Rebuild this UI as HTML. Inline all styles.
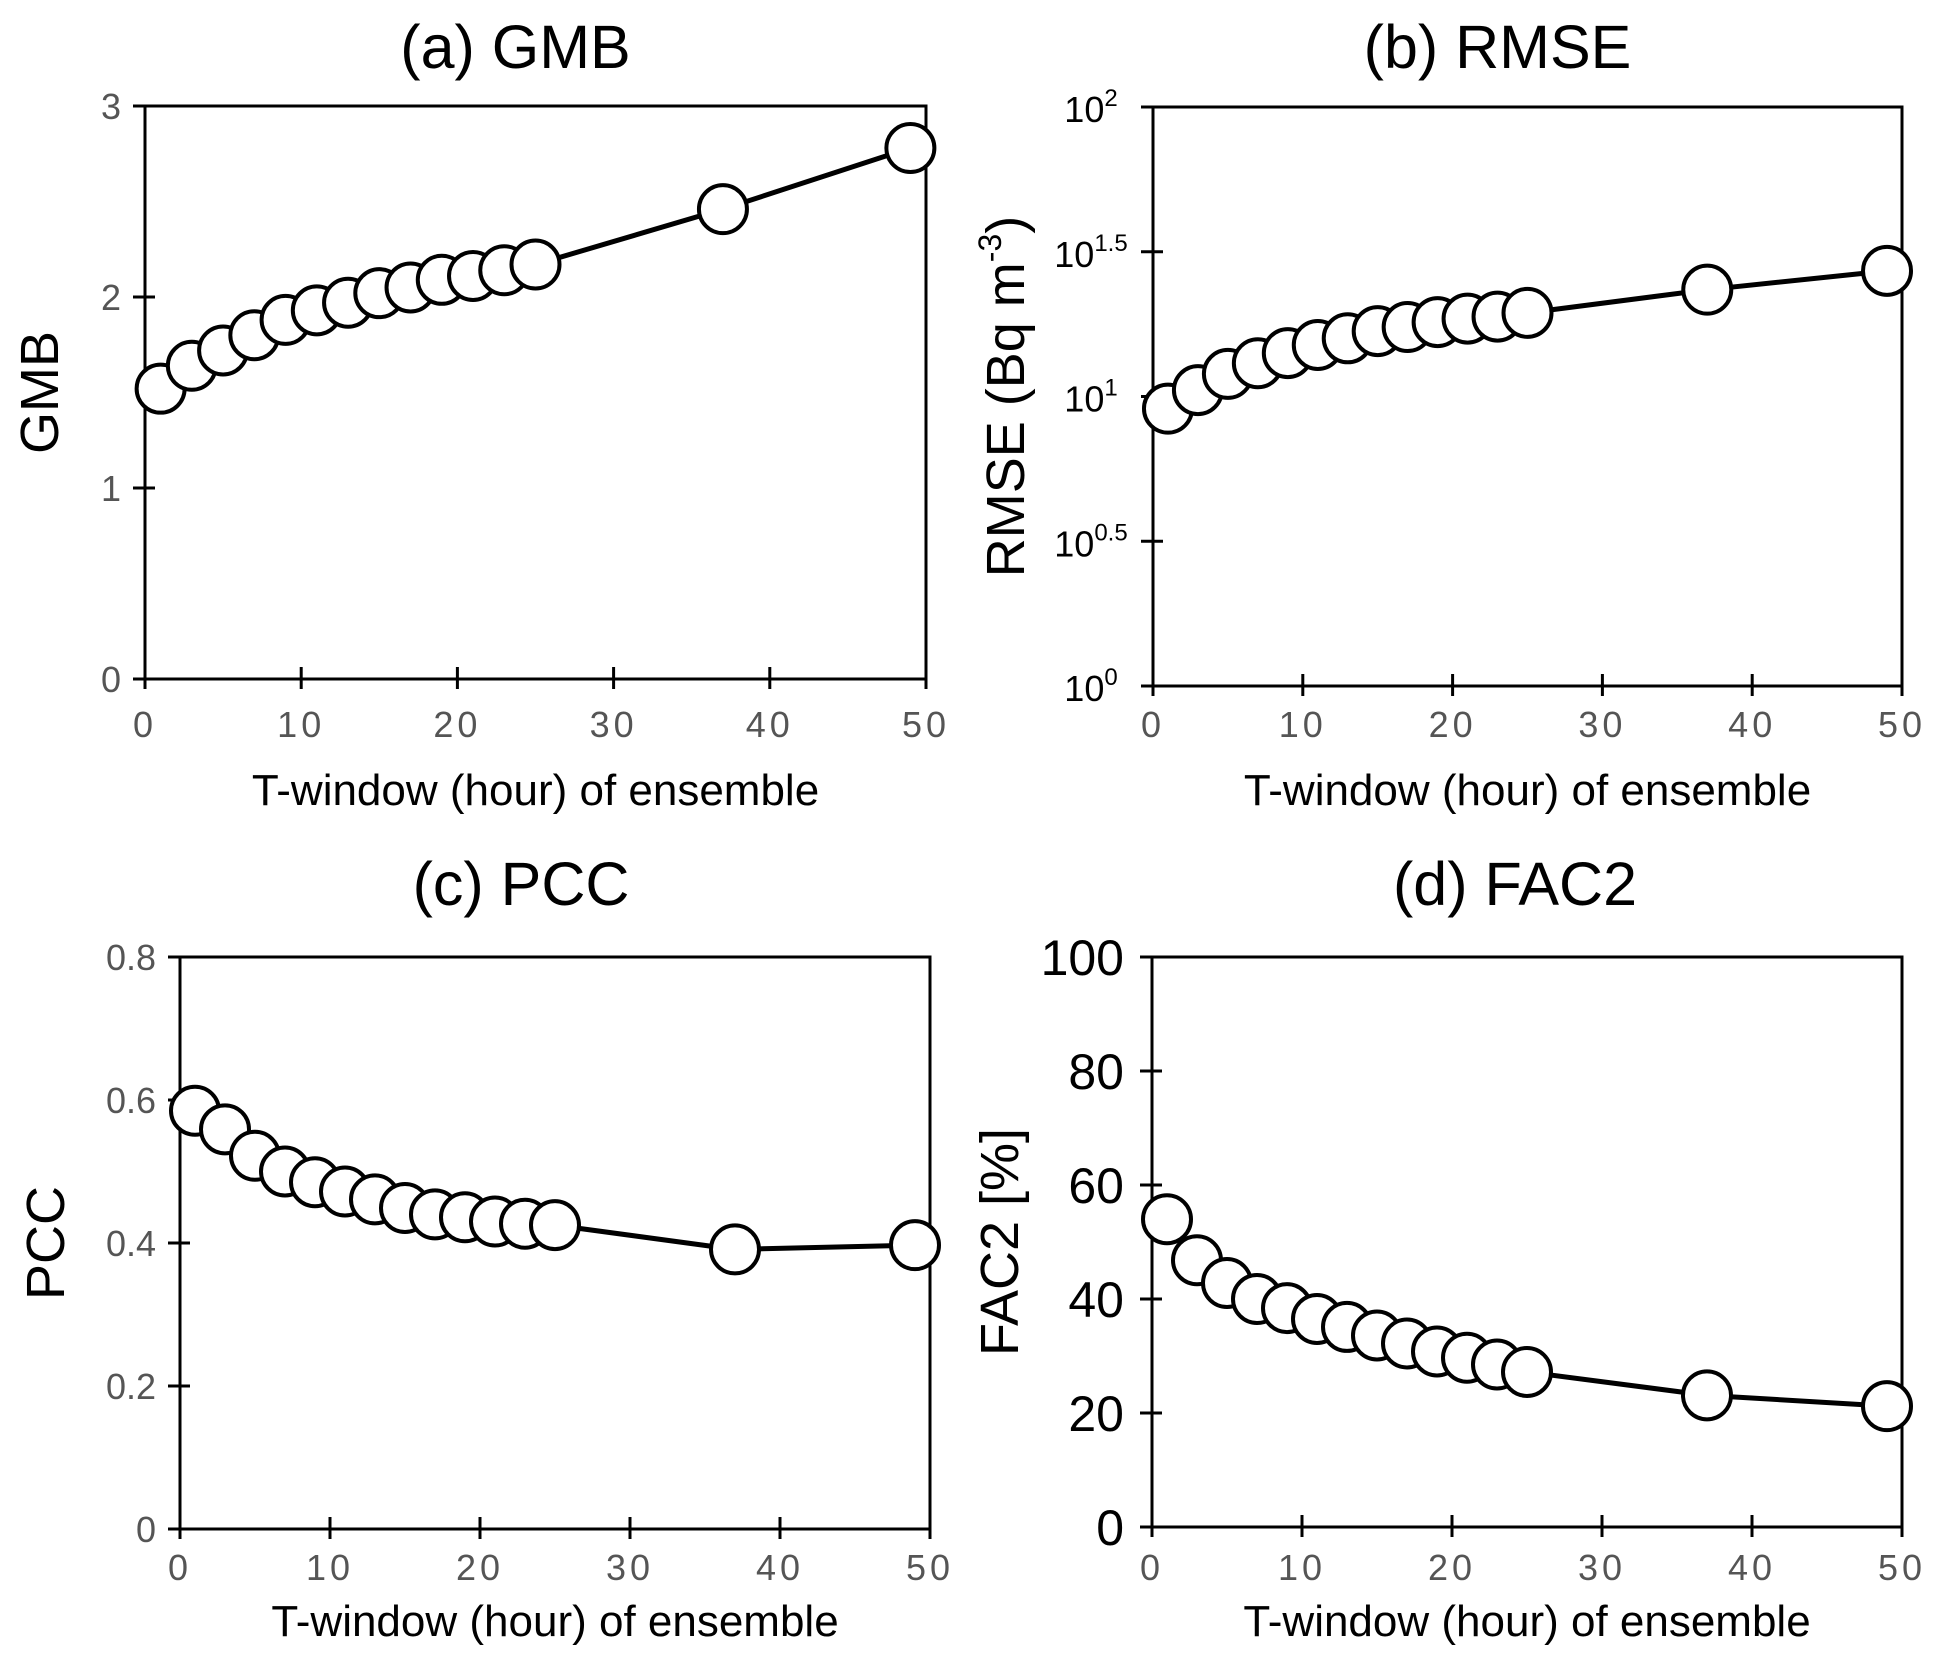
<!DOCTYPE html>
<html><head><meta charset="utf-8"><style>
body{margin:0;background:#fff}
svg{display:block;font-family:"Liberation Sans",sans-serif}
</style></head><body>
<svg id="chart" width="1939" height="1659" viewBox="0 0 1939 1659"></svg>
<script>
const xValues=[1,3,5,7,9,11,13,15,17,19,21,23,25,37,49];
const gmbValues=[1.52,1.64,1.72,1.80,1.88,1.93,1.97,2.02,2.05,2.09,2.11,2.14,2.17,2.46,2.78];
const rmseLogValues=[0.958,1.022,1.078,1.115,1.150,1.178,1.201,1.226,1.240,1.257,1.269,1.276,1.289,1.369,1.434];
const pccValues=[0.585,0.559,0.522,0.500,0.485,0.472,0.461,0.449,0.440,0.436,0.430,0.427,0.425,0.391,0.397];
const fac2Values=[54.0,46.8,42.8,40.0,38.4,36.5,35.1,33.6,32.2,30.8,29.7,28.5,27.2,23.1,21.2];
const xTicks=[0,10,20,30,40,50];
const gmbTicks=[0,1,2,3];
const rmseTicks=[0,0.5,1,1.5,2];
const rmseTickLabels=["0","0.5","1","1.5","2"];
const pccTicks=[0,0.2,0.4,0.6,0.8];
const pccTickLabels=["0","0.2","0.4","0.6","0.8"];
const fac2Ticks=[0,20,40,60,80,100];

const svg=document.getElementById('chart');
const NS='http://www.w3.org/2000/svg';
function el(tag,attrs,parent){const e=document.createElementNS(NS,tag);for(const k in attrs)e.setAttribute(k,attrs[k]);(parent||svg).appendChild(e);return e;}

const panels=[
 {id:'gmb',title:'(a) GMB',L:145,R:926,T:106,B:679,ymin:0,ymax:3,vals:gmbValues,ticks:gmbTicks,labels:gmbTicks.map(String),tickStyle:'gray',ylab:'GMB',ylabX:40,titleY:68,titleDx:-20,xtY:737,xlY:805},
 {id:'rmse',title:'(b) RMSE',L:1153,R:1902,T:107,B:686,ymin:0,ymax:2,vals:rmseLogValues,ticks:rmseTicks,labels:rmseTickLabels,tickStyle:'pow',ylab:'rmse',ylabX:1006,titleY:68,titleDx:-30,xtY:737,xlY:805},
 {id:'pcc',title:'(c) PCC',L:180,R:930,T:957,B:1529,ymin:0,ymax:0.8,vals:pccValues,ticks:pccTicks,labels:pccTickLabels,tickStyle:'gray',ylab:'PCC',ylabX:46,titleY:905,titleDx:-34,xtY:1580,xlY:1636},
 {id:'fac2',title:'(d) FAC2',L:1152,R:1902,T:957,B:1527,ymin:0,ymax:100,vals:fac2Values,ticks:fac2Ticks,labels:fac2Ticks.map(String),tickStyle:'big',ylab:'FAC2 [%]',ylabX:1000,titleY:905,titleDx:-12,xtY:1580,xlY:1636}
];

panels.forEach(p=>{
 const g=el('g',{});
 
 
 const sx=v=>p.L+(v-0)/(50-0)*(p.R-p.L);
 const sy=v=>p.B-(v-p.ymin)/(p.ymax-p.ymin)*(p.B-p.T);
 const t=el('text',{x:(p.L+p.R)/2+p.titleDx,y:p.titleY,'text-anchor':'middle','font-size':61,fill:'#000'},g);
 t.textContent=p.title;
 
 
 const frame=el('rect',{x:p.L,y:p.T,width:p.R-p.L,height:p.B-p.T,fill:'none',stroke:'#000','stroke-width':3},g);
 
 
 xTicks.forEach(v=>{
  el('line',{x1:sx(v),x2:sx(v),y1:p.B-12,y2:p.B+10,stroke:'#000','stroke-width':3},g);
  const tl=el('text',{x:sx(v),y:p.xtY,'text-anchor':'middle','font-size':36,fill:'#555','letter-spacing':'4'},g);
  tl.textContent=String(v);
  
  
 });
 const xl=el('text',{x:(p.L+p.R)/2,y:p.xlY,'text-anchor':'middle','font-size':44,fill:'#000'},g);
 xl.textContent='T-window (hour) of ensemble';
 
 
 p.ticks.forEach((v,i)=>{
  const y=sy(v);
  el('line',{x1:p.L-12,x2:p.L+10,y1:y,y2:y,stroke:'#000','stroke-width':3},g);
  let tl;
  if(p.tickStyle==='pow'){
   tl=el('text',{x:p.L-62,y:y+15,'text-anchor':'middle','font-size':36,fill:'#000'},g);
   const base=el('tspan',{},tl);base.textContent='10';
   const sup=el('tspan',{dy:-16,'font-size':24},tl);sup.textContent=p.labels[i];
  }else if(p.tickStyle==='big'){
   tl=el('text',{x:p.L-28,y:y+18,'text-anchor':'end','font-size':50,fill:'#000'},g);
   tl.textContent=p.labels[i];
  }else{
   tl=el('text',{x:p.L-24,y:y+13,'text-anchor':'end','font-size':36,fill:'#555'},g);
   tl.textContent=p.labels[i];
  }
  
  
 });
 const cy=(p.T+p.B)/2;
 const yl=el('text',{x:p.ylabX,y:cy,'text-anchor':'middle','font-size':54,fill:'#000',transform:`rotate(-90 ${p.ylabX} ${cy})`,'dominant-baseline':'central'},g);
 if(p.ylab==='rmse'){
  const a=el('tspan',{},yl);a.textContent='RMSE (Bq m';
  const b=el('tspan',{dy:-16,'font-size':32},yl);b.textContent='-3';
  const c=el('tspan',{dy:16},yl);c.textContent=')';
 }else yl.textContent=p.ylab;
 
 
 const pts=xValues.map((x,i)=>sx(x)+','+sy(p.vals[i])).join(' ');
 const pl=el('polyline',{points:pts,fill:'none',stroke:'#000','stroke-width':5},g);
 
 
 xValues.forEach((x,i)=>{
  const c=el('circle',{cx:sx(x),cy:sy(p.vals[i]),r:24,fill:'#fff',stroke:'#000','stroke-width':4},g);
  
  
 });
});
</script>
</body></html>
